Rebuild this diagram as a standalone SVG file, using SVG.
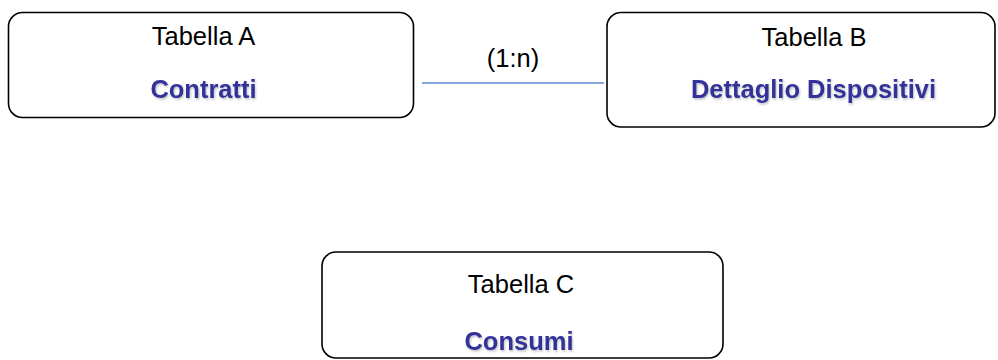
<svg xmlns="http://www.w3.org/2000/svg" width="998" height="360" viewBox="0 0 998 360">
<defs>
<filter id="sh" x="-10%" y="-30%" width="120%" height="160%">
<feDropShadow dx="1" dy="1.5" stdDeviation="1" flood-color="#000" flood-opacity="0.25"/>
</filter>
<style>
.box{fill:#fff;stroke:#000;stroke-width:1.6}
.t{font-family:"Liberation Sans",Arial,sans-serif;font-size:25.5px;fill:#000;text-anchor:middle}
.b{font-family:"Liberation Sans",Arial,sans-serif;font-size:25.5px;font-weight:bold;fill:#333399;text-anchor:middle;filter:url(#sh)}
.conn{stroke:#5B8BD0;stroke-width:1.6;fill:none}
</style>
</defs>
<rect width="998" height="360" fill="#fff"/>
<g id="connectors">
<line class="conn" x1="422" y1="83" x2="604" y2="83"/>
<text class="t" x="513" y="67">(1:n)</text>
</g>
<g id="tabellaA">
<rect class="box" x="8.5" y="12.5" width="405" height="105" rx="14"/>
<text class="t" x="203.5" y="45">Tabella A</text>
<text class="b" x="203.5" y="98">Contratti</text>
</g>
<g id="tabellaB">
<rect class="box" x="607" y="12.5" width="388" height="114.5" rx="14"/>
<text class="t" x="814" y="46">Tabella B</text>
<text class="b" x="813.5" y="98">Dettaglio Dispositivi</text>
</g>
<g id="tabellaC">
<rect class="box" x="322" y="252" width="401" height="106" rx="14"/>
<text class="t" x="521" y="293">Tabella C</text>
<text class="b" x="519" y="350">Consumi</text>
</g>
</svg>
